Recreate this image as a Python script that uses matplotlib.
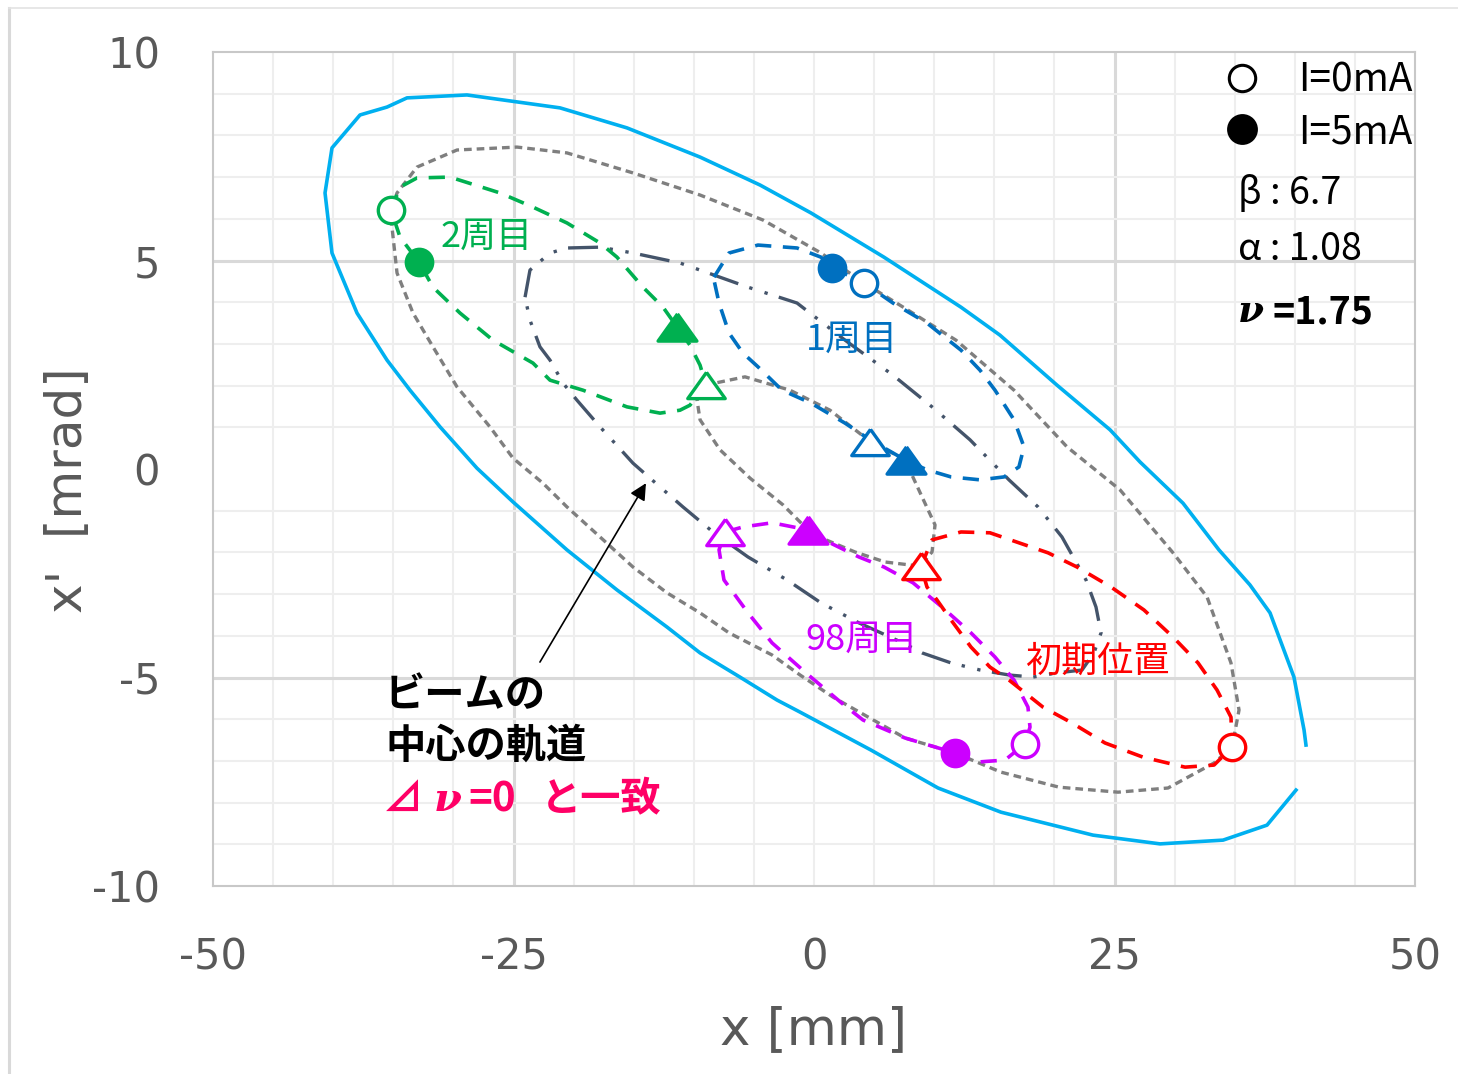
import matplotlib
matplotlib.use('Agg')
import matplotlib.pyplot as plt
from matplotlib.lines import Line2D
import numpy as np

plt.rcParams['font.family'] = ['DejaVu Sans', 'Noto Sans CJK JP']
plt.rcParams['axes.unicode_minus'] = False
JP = ['Noto Sans CJK JP', 'DejaVu Sans']

# ---------------- data (x [mm], x' [mrad]) ----------------
x_ticks = [-50, -25, 0, 25, 50]
y_ticks = [-10, -5, 0, 5, 10]

# outer acceptance (cyan, open curve)
cyan_pts = [(40.93, -6.62), (40.77, -6.26), (39.93, -4.99), (37.94, -3.45), (36.27, -2.78),
            (33.69, -1.94), (30.70, -0.82), (27.12, 0.17), (24.63, 0.94), (20.22, 2.01),
            (15.47, 3.21), (12.23, 3.88), (5.82, 5.08), (-0.25, 6.14), (-4.49, 6.81),
            (-9.48, 7.48), (-15.56, 8.18), (-21.13, 8.66), (-28.87, 8.97), (-33.86, 8.90),
            (-35.52, 8.68), (-37.77, 8.49), (-40.10, 7.70), (-40.68, 6.62), (-40.10, 5.18),
            (-38.02, 3.74), (-35.52, 2.61), (-33.61, 1.89), (-31.11, 1.01), (-28.04, 0.02),
            (-25.04, -0.79), (-20.55, -1.94), (-16.39, -2.90), (-12.23, -3.79), (-9.48, -4.41),
            (-6.16, -4.99), (-3.08, -5.54), (-1.16, -5.83), (4.74, -6.74), (10.32, -7.65),
            (15.56, -8.23), (23.21, -8.78), (28.79, -8.99), (34.03, -8.90), (37.69, -8.54),
            (40.10, -7.70)]

# gray dashed outer ellipse (closed)
gray_outer_pts = [(-35.19, 6.21), (-34.69, 6.62), (-33.03, 7.24), (-29.70, 7.65), (-24.71, 7.72),
                  (-20.55, 7.58), (-15.06, 7.10), (-9.48, 6.57), (-4.24, 5.97), (0.58, 5.18),
                  (4.16, 4.46), (7.82, 3.81), (11.81, 3.09), (16.64, 1.89), (21.05, 0.53),
                  (25.46, -0.50), (29.87, -2.01), (32.70, -3.07), (34.69, -4.65), (35.36, -5.78),
                  (34.78, -6.67), (33.28, -7.05), (29.45, -7.65), (25.29, -7.75), (20.38, -7.63),
                  (15.56, -7.27), (11.73, -6.81), (7.57, -6.45), (1.58, -5.47), (-1.16, -4.94),
                  (-3.49, -4.46), (-7.07, -3.93), (-9.48, -3.45), (-12.23, -2.97), (-15.06, -2.35),
                  (-17.80, -1.63), (-20.55, -0.91), (-22.55, -0.34), (-25.04, 0.26), (-26.96, 1.01),
                  (-29.70, 1.97), (-31.70, 2.93), (-33.36, 3.74), (-34.69, 4.70), (-35.11, 5.80)]

# gray dashed inner ellipse (closed)
gray_inner_pts = [(-9.07, 2.01), (-5.74, 2.21), (-2.00, 1.89), (1.33, 1.41), (4.49, 0.70),
                  (7.57, 0.22), (8.99, -0.67), (10.07, -1.34), (9.82, -1.99), (8.82, -2.33),
                  (5.91, -2.23), (3.41, -1.99), (1.00, -1.70), (-0.50, -1.46), (-2.58, -0.86),
                  (-5.32, -0.22), (-7.82, 0.46), (-9.48, 1.18), (-9.73, 1.65)]

# beam centre orbit (dash-dot-dot, closed)
center_pts = [(-24.04, 4.12), (-23.63, 4.77), (-21.96, 5.18), (-20.55, 5.30), (-17.80, 5.32),
              (-15.06, 5.18), (-11.15, 4.94), (-9.48, 4.77), (-5.49, 4.36), (-1.41, 3.98),
              (2.58, 3.09), (6.57, 2.25), (9.82, 1.49), (12.98, 0.70), (16.22, -0.26),
              (18.64, -0.91), (20.63, -1.63), (22.63, -2.66), (23.46, -3.31), (23.88, -3.93),
              (23.29, -4.41), (22.30, -4.82), (20.22, -4.89), (18.22, -4.99), (16.22, -4.94),
              (13.81, -4.82), (11.40, -4.65), (8.99, -4.41), (7.40, -4.17), (3.74, -3.69),
              (0.58, -3.21), (-2.25, -2.66), (-5.49, -2.11), (-8.32, -1.53), (-10.90, -0.91),
              (-13.64, -0.22), (-15.06, 0.14), (-17.80, 1.01), (-19.72, 1.65), (-20.88, 2.06),
              (-21.96, 2.61), (-22.80, 2.93), (-23.63, 3.57)]

# turn ellipses (closed dashed)
turn1_pts = [(-8.32, 4.60), (-7.07, 5.18), (-4.66, 5.37), (-1.41, 5.30), (0.58, 5.08),
             (1.58, 4.82), (4.16, 4.46), (6.57, 3.98), (9.40, 3.50), (12.23, 2.85),
             (13.81, 2.37), (15.06, 1.89), (16.64, 1.18), (17.47, 0.53), (17.05, 0.05),
             (15.81, -0.19), (13.81, -0.26), (11.40, -0.19), (9.40, -0.02), (7.57, 0.22),
             (4.66, 0.70), (2.58, 1.10), (-0.25, 1.58), (-2.66, 1.89), (-4.66, 2.45),
             (-5.91, 2.78), (-7.07, 3.26), (-7.90, 3.98), (-8.32, 4.53)]
turn2_pts = [(-35.19, 6.21), (-34.44, 6.76), (-33.03, 6.98), (-30.28, 7.00), (-26.12, 6.62),
             (-23.38, 6.28), (-20.55, 5.90), (-17.80, 5.42), (-16.39, 5.08), (-14.23, 4.36),
             (-12.56, 3.88), (-11.40, 3.41), (-10.32, 2.97), (-9.48, 2.49), (-8.99, 2.01),
             (-10.32, 1.53), (-11.15, 1.41), (-12.81, 1.34), (-15.56, 1.49), (-19.22, 1.89),
             (-21.96, 2.13), (-23.38, 2.54), (-26.71, 3.09), (-29.45, 3.74), (-31.70, 4.36),
             (-32.86, 4.96), (-34.44, 5.56)]
turn98_pts = [(-7.40, -1.51), (-5.91, -1.39), (-3.49, -1.29), (-0.50, -1.46), (1.33, -1.77),
              (3.74, -2.11), (5.82, -2.35), (8.24, -2.73), (10.65, -3.31), (13.06, -3.93),
              (15.06, -4.51), (16.64, -5.06), (17.80, -5.71), (17.97, -6.19), (17.55, -6.59),
              (15.89, -6.98), (13.48, -7.03), (11.73, -6.81), (7.57, -6.45), (4.08, -6.02),
              (2.58, -5.68), (-0.67, -4.89), (-3.49, -4.17), (-5.49, -3.45), (-7.49, -2.66),
              (-7.90, -1.94)]
init_pts = [(8.90, -2.33), (9.82, -1.70), (12.23, -1.51), (14.64, -1.53), (17.05, -1.77),
            (19.47, -2.01), (21.88, -2.35), (24.71, -2.83), (27.45, -3.38), (29.87, -4.03),
            (31.95, -4.65), (33.53, -5.30), (34.69, -5.95), (34.78, -6.67), (33.28, -7.10),
            (30.87, -7.15), (27.37, -6.91), (24.21, -6.57), (21.46, -6.09), (19.05, -5.71),
            (16.22, -5.06), (14.64, -4.75), (13.06, -4.27), (11.40, -3.62), (10.23, -3.14),
            (9.40, -2.83)]

# markers: (open circle I=0, filled circle I=5, open triangle, filled triangle)
green_open_circle = (-35.19, 6.21)
green_fill_circle = (-32.86, 4.96)
green_open_tri = (-8.99, 2.01)
green_fill_tri = (-11.40, 3.41)
blue_open_circle = (4.16, 4.46)
blue_fill_circle = (1.50, 4.82)
blue_open_tri = (4.66, 0.65)
blue_fill_tri = (7.65, 0.22)
purple_open_circle = (17.55, -6.59)
purple_fill_circle = (11.73, -6.81)
purple_open_tri = (-7.40, -1.51)
purple_fill_tri = (-0.50, -1.46)
red_open_circle = (34.78, -6.67)
red_open_tri = (8.90, -2.33)

# labels
label_2 = ("2周目", (-27.2, 5.56))
label_1 = ("1周目", (3.16, 3.09))
label_98 = ("98周目", (3.99, -4.10))
label_init = ("初期位置", (23.54, -4.63))
arrow_head = (-13.98, -0.34)
arrow_tail = (-22.80, -4.63)

# ---------------- styling ----------------
C_CYAN = '#00B0F0'
C_GRAY = '#7F7F7F'
C_DARK = '#44546A'
C_GREEN = '#00B050'
C_BLUE = '#0070C0'
C_PURPLE = '#CC00FF'
C_RED = '#FF0000'
C_PINK = '#FF0066'


def xy(pts, close=False):
    a = np.array(pts, dtype=float)
    if close:
        a = np.vstack([a, a[:1]])
    return a[:, 0], a[:, 1]


fig = plt.figure(figsize=(14.58, 10.74), dpi=100)
ax = fig.add_axes([213 / 1458, 1 - 886 / 1074, 1202 / 1458, 834 / 1074])
ax.set_xlim(-50, 50)
ax.set_ylim(-10, 10)

# grid
for v in np.arange(-45, 50, 5):
    major = v in (-25, 25)
    ax.axvline(v, color='#d9d9d9' if major else '#eeeeee', lw=2.2 if major else 1.5, zorder=0)
for v in range(-9, 10):
    if v == 0:
        continue
    major = v in (-5, 5)
    ax.axhline(v, color='#d9d9d9' if major else '#eeeeee', lw=2.2 if major else 1.5, zorder=0)

for s in ax.spines.values():
    s.set_color('#c8c8c8')
    s.set_linewidth(1.5)

ax.set_xticks(x_ticks)
ax.set_yticks(y_ticks)
ax.tick_params(length=0, labelsize=30, labelcolor='#595959')
ax.tick_params(axis='x', pad=36)
ax.tick_params(axis='y', pad=38)

ax.set_xlabel('x [mm]', fontsize=37, color='#595959', va='center')
ax.xaxis.set_label_coords(0.5, (886 - 1030) / 834)
ax.set_ylabel("x'  [mrad]", fontsize=36, color='#595959', va='center')
ax.yaxis.set_label_coords((68 - 213) / 1202, (886 - 490) / 834)

LW = 2.6
DASH = (0, (4.5, 3.2))
GDASH = (0, (2.3, 1.5))
# curves
ax.plot(*xy(cyan_pts), color=C_CYAN, lw=2.6, zorder=2)
ax.plot(*xy(gray_outer_pts, True), color=C_GRAY, lw=2.4, ls=GDASH, zorder=2)
ax.plot(*xy(gray_inner_pts, True), color=C_GRAY, lw=2.4, ls=GDASH, zorder=2)
ax.plot(*xy(center_pts, True), color=C_DARK, lw=2.4, ls=(0, (9, 3.5, 1, 3.8, 1, 3.5)), zorder=3)
ax.plot(*xy(turn1_pts, True), color=C_BLUE, lw=LW, ls=DASH, zorder=3)
ax.plot(*xy(turn2_pts, True), color=C_GREEN, lw=LW, ls=DASH, zorder=3)
ax.plot(*xy(turn98_pts, True), color=C_PURPLE, lw=LW, ls=DASH, zorder=3)
ax.plot(*xy(init_pts, True), color=C_RED, lw=LW, ls=DASH, zorder=3)

TRI = [(0, 0.7), (-1, -0.7), (1, -0.7), (0, 0.7)]
CMS = 19
TMS = 27


def mark(p, color, kind, filled):
    marker = 'o' if kind == 'c' else TRI
    ms = CMS if kind == 'c' else (TMS if not filled else 28)
    ax.plot([p[0]], [p[1]], ls='none', marker=marker, ms=ms,
            mfc=color if filled else 'white', mec=color, mew=2.4, zorder=5)


for col, oc, fc, ot, ft in [(C_GREEN, green_open_circle, green_fill_circle, green_open_tri, green_fill_tri),
                            (C_BLUE, blue_open_circle, blue_fill_circle, blue_open_tri, blue_fill_tri),
                            (C_PURPLE, purple_open_circle, purple_fill_circle, purple_open_tri, purple_fill_tri)]:
    mark(oc, col, 'c', False)
    mark(fc, col, 'c', True)
    mark(ot, col, 't', False)
    mark(ft, col, 't', True)
mark(red_open_circle, C_RED, 'c', False)
mark(red_open_tri, C_RED, 't', False)

# turn labels
for (txt, pos), col in [(label_2, C_GREEN), (label_1, C_BLUE), (label_98, C_PURPLE), (label_init, C_RED)]:
    ax.text(pos[0], pos[1], txt, color=col, fontsize=26, family=JP, ha='center', va='center', zorder=6)

# annotation
ax.annotate('', xy=arrow_head, xytext=arrow_tail,
            arrowprops=dict(arrowstyle='-|>', color='black', lw=1.2, mutation_scale=25,
                            shrinkA=0, shrinkB=0), zorder=6)


def axf(px, py):
    return ((px - 213) / 1202, (886 - py) / 834)


ax.text(*axf(385, 696), 'ビームの', transform=ax.transAxes, fontsize=29, fontweight='bold',
        family=JP, ha='left', va='center', color='black')
ax.text(*axf(385, 746), '中心の軌道', transform=ax.transAxes, fontsize=29, fontweight='bold',
        family=JP, ha='left', va='center', color='black')
for txt, px_, kw in [('⊿', 383, dict(family=JP)),
                     ('ν', 434, dict(family='DejaVu Serif', style='italic')),
                     ('=0', 468, dict(family=JP)),
                     ('と一致', 541, dict(family=JP))]:
    ax.text(*axf(px_, 800), txt, transform=ax.transAxes, fontsize=29, fontweight='bold',
            ha='left', va='center', color=C_PINK, **kw)

# legend
handles = [Line2D([], [], ls='none', marker='o', ms=19, mfc='white', mec='black', mew=2.2),
           Line2D([], [], ls='none', marker='o', ms=20, mfc='black', mec='black', mew=2.2)]
leg = ax.legend(handles, ['I=0mA', 'I=5mA'], loc='upper right', bbox_to_anchor=(0.998, 0.99),
                frameon=False, prop={'family': JP, 'size': 28}, handlelength=1.0,
                handletextpad=0.95, labelspacing=0.3, borderaxespad=0, borderpad=0, numpoints=1)

ax.text(*axf(1238, 193), 'β : 6.7', transform=ax.transAxes, fontsize=27, family=JP,
        ha='left', va='center', color='black')
ax.text(*axf(1238, 250), 'α : 1.08', transform=ax.transAxes, fontsize=27, family=JP,
        ha='left', va='center', color='black')
ax.text(*axf(1238, 312), 'ν', transform=ax.transAxes, fontsize=27, family='DejaVu Serif',
        style='italic', fontweight='bold', ha='left', va='center', color='black')
ax.text(*axf(1272, 312), '=1.75', transform=ax.transAxes, fontsize=27,
        family=JP, fontweight='bold', ha='left', va='center', color='black')

# figure border
fig.add_artist(Line2D([9 / 1458, 9 / 1458], [0, 1 - 8 / 1074], transform=fig.transFigure,
                      color='#d9d9d9', lw=2.2))
fig.add_artist(Line2D([9 / 1458, 1], [1 - 8 / 1074, 1 - 8 / 1074], transform=fig.transFigure,
                      color='#e3e3e3', lw=1.2))

fig.savefig('out.png', dpi=100)
